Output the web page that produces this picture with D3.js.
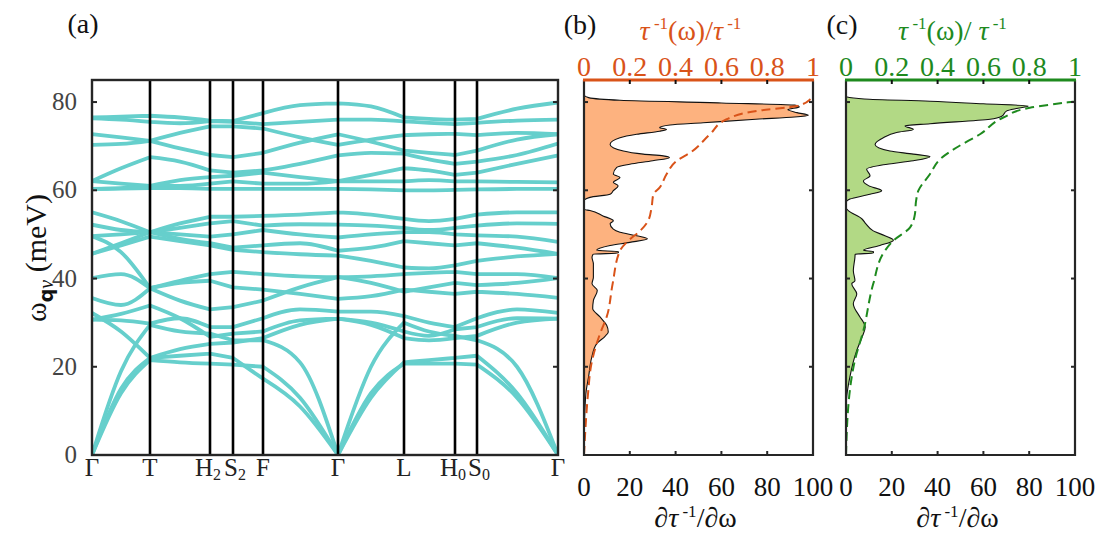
<!DOCTYPE html>
<html>
<head>
<meta charset="utf-8">
<script src="https://cdn.jsdelivr.net/npm/d3@7"></script>
<style>
  body { margin: 0; background: #fff; }
  svg { font-family: 'Liberation Serif', 'Times New Roman', serif; }
</style>
</head>
<body>
<svg id="chart" width="1097" height="535"></svg>
<script>
//  data //

// distance along the k-path of the high-symmetry points
const kNodes = [0, 58, 118, 141, 171, 246, 312, 363, 385, 466];
const kNames = [['Γ', ''], ['T', ''], ['H', '2'], ['S', '2'], ['F', ''], ['Γ', ''], ['L', ''], ['H', '0'], ['S', '0'], ['Γ', '']];
// sample points where band energies were read (nodes plus some midpoints)
const kGrid = [0, 29, 58, 88, 118, 141, 171, 208, 246, 279, 312, 337, 363, 385, 425, 466];

// phonon branches in meV, one value per kGrid point
const bands = [
  [76.5, 76.7, 76.9, 76.5, 75.8, 75.7, 77.5, 79.3, 79.7, 79.0, 76.5, 76.2, 76.0, 76.2, 78.5, 79.9],
  [76.3, 76.0, 75.5, 75.2, 75.7, 75.5, 75.0, 75.5, 76.0, 76.0, 75.6, 75.3, 75.0, 75.3, 75.8, 76.0],
  [72.7, 72.0, 71.2, 73.0, 74.5, 74.5, 74.0, 72.0, 70.3, 71.5, 72.5, 72.7, 72.8, 72.5, 73.0, 72.7],
  [70.3, 70.5, 71.2, 69.5, 68.0, 67.5, 68.5, 70.8, 72.7, 71.0, 69.0, 68.5, 68.0, 69.0, 71.5, 72.7],
  [62.1, 65.0, 67.5, 66.5, 64.5, 64.0, 64.5, 66.0, 67.9, 68.5, 68.3, 67.0, 66.0, 66.5, 68.0, 70.6],
  [62.1, 61.5, 61.0, 62.3, 63.0, 63.3, 64.0, 63.0, 62.1, 63.5, 65.0, 64.5, 63.5, 64.0, 66.0, 67.9],
  [60.3, 60.5, 61.0, 61.0, 61.5, 62.0, 61.5, 61.5, 62.1, 62.0, 62.0, 62.3, 62.0, 62.0, 61.9, 61.8],
  [60.3, 60.4, 60.5, 60.5, 60.3, 60.3, 60.3, 60.3, 60.3, 60.2, 60.0, 60.0, 60.1, 60.2, 60.3, 60.3],
  [55.0, 53.0, 50.5, 52.5, 54.0, 54.0, 54.2, 54.5, 55.0, 54.5, 53.5, 53.0, 53.5, 54.5, 55.0, 55.0],
  [52.2, 51.0, 50.5, 51.5, 52.5, 53.0, 52.0, 52.3, 52.2, 52.0, 51.5, 51.0, 51.5, 52.0, 52.5, 52.4],
  [49.6, 50.0, 50.5, 50.0, 49.5, 50.0, 51.0, 50.0, 49.3, 50.0, 50.5, 50.5, 50.0, 49.8, 49.5, 48.3],
  [45.6, 48.0, 50.5, 49.0, 48.0, 47.0, 47.5, 48.0, 46.3, 47.0, 48.5, 48.0, 47.5, 48.0, 47.0, 45.6],
  [45.6, 47.5, 49.5, 48.5, 47.5, 46.5, 46.0, 45.5, 45.2, 44.0, 42.5, 42.3, 43.0, 44.0, 45.0, 45.6],
  [49.6, 46.0, 37.8, 35.0, 33.0, 33.5, 35.0, 38.0, 40.3, 39.0, 37.0, 38.0, 39.0, 38.5, 39.0, 40.1],
  [40.1, 41.0, 37.8, 39.5, 41.0, 41.5, 41.0, 40.5, 40.3, 40.5, 41.0, 41.3, 41.5, 41.0, 41.0, 40.1],
  [35.6, 34.0, 37.8, 39.0, 39.5, 38.0, 37.5, 36.5, 35.4, 36.0, 37.5, 37.0, 36.5, 37.0, 36.5, 35.6],
  [32.2, 28.0, 22.0, 24.0, 25.2, 25.5, 26.5, 29.5, 30.9, 29.5, 26.5, 26.0, 26.5, 27.0, 30.0, 30.9],
  [30.7, 32.0, 33.9, 31.0, 26.8, 27.5, 28.0, 30.5, 30.9, 30.0, 28.0, 27.0, 28.5, 29.0, 31.0, 30.9],
  [30.7, 30.5, 29.8, 31.0, 29.0, 29.0, 31.0, 33.0, 32.5, 32.5, 31.5, 30.0, 29.0, 31.0, 33.0, 32.2],
  [0, 14.0, 21.5, 21.0, 20.7, 20.5, 20.0, 13.0, 0, 14.0, 20.7, 20.7, 20.7, 20.5, 13.0, 0],
  [0, 15.0, 22.0, 22.5, 23.0, 22.0, 17.3, 11.0, 0, 13.0, 21.0, 21.5, 22.0, 22.5, 14.0, 0],
  [0, 19.0, 29.5, 28.0, 27.5, 26.0, 26.0, 21.0, 0, 20.0, 30.0, 28.0, 27.0, 26.0, 20.0, 0]
];

// panel (b): derivative of the scattering rate and its normalised cumulative value
const omegaB = [0, 1, 10.2, 14.7, 17.7, 22.2, 25.2, 26.9, 27.9, 29.4, 31.3, 33.2, 35.0, 37.3, 38.8, 40.3, 43.3, 44.8, 45.5, 45.8, 46.1, 46.4,
  47.5, 48.2, 49.0, 49.7, 50.5, 51.2, 52.4, 53.1, 54.2, 55.4, 55.7, 57.6, 58.4, 59.1, 59.9, 61.0, 61.8, 62.9, 63.7, 65.2, 65.9, 66.7, 67.4,
  67.8, 68.2, 68.9, 70.4, 71.9, 72.7, 73.4, 73.8, 74.2, 74.8, 75.3, 76.1, 76.6, 77.0, 77.6, 78.3, 78.9, 79.3, 79.8, 80.4, 81.0, 81.5];
const rateB = [0, 0, 0.4, 1, 2, 3.4, 5.5, 9.2, 10.6, 9.9, 7, 3.8, 4.1, 5.8, 3.5, 4.1, 4.1, 3.5, 4, 15, 15, 5.5,
  11.4, 20, 27.7, 23, 15.7, 12.8, 11.4, 12.8, 8.3, 2.6, 0, 0, 2.6, 11.4, 12.8, 14.9, 12.8, 15.7, 12.8, 14.3, 20, 30, 37.3,
  34.6, 25.9, 17.2, 11.4, 15.7, 23, 33, 36, 33, 37.6, 52, 75, 92, 98, 93, 89, 94, 92, 60, 15.7, 2, 0];
const cumOmegaB = [0, 14.7, 20, 27.5, 31.3, 38.8, 46.3, 48.6, 50.8, 53.1, 56.1, 59.1, 60.6, 63.7, 66.7, 68.5, 72.7, 76.1, 78.0, 79.1, 80.6, 81.7, 85];
const cumB = [0, 0.019, 0.03, 0.07, 0.099, 0.125, 0.157, 0.194, 0.245, 0.28, 0.295, 0.303, 0.33, 0.361, 0.405, 0.463, 0.55, 0.623, 0.754, 0.929, 0.987, 1, 1];

// panel (c)
const omegaC = [0, 10, 12.4, 17.7, 23.7, 26.7, 29.0, 30.1, 31.3, 34.3, 36.5, 38.8, 39.5, 41.8, 44.8, 45.5, 45.8, 46.1, 46.4,
  47.5, 48.7, 49.7, 50.8, 52.4, 53.5, 55.4, 56.0, 57.2, 58.0, 59.1, 59.9, 61.0, 62.1, 63.3, 64.8, 65.8, 66.7, 67.6, 68.2, 68.9,
  70.4, 71.9, 73.1, 73.8, 74.6, 75.1, 76.1, 76.8, 78.0, 78.6, 79.1, 79.6, 80.2, 80.7, 81.2];
const rateC = [0, 0.1, 0.2, 1.7, 4.7, 7, 8.4, 7.6, 6.1, 3.2, 4.7, 2.5, 3.9, 3.2, 3.9, 4, 12, 12, 7.6,
  14.8, 20.7, 17, 11.9, 8.7, 7, 1, 0, 0, 1.7, 10.5, 15.6, 10, 7.6, 10.5, 9, 16.3, 29.4, 36.7, 29.4, 19.2,
  12.7, 16.3, 22.1, 29.4, 25.8, 36.7, 62.9, 68, 70.2, 75, 79.6, 60, 36.7, 8, 0];
const cumOmegaC = [0, 14.7, 21.5, 28.2, 38.8, 46.3, 48.6, 51.6, 54.6, 57.6, 59.9, 63.7, 67.0, 69.7, 72.7, 76.5, 78.7, 79.8, 80.2, 85];
const cumC = [0, 0.017, 0.039, 0.076, 0.119, 0.17, 0.207, 0.28, 0.301, 0.306, 0.316, 0.367, 0.41, 0.483, 0.585, 0.687, 0.803, 0.948, 1, 1];

const yTicks = [0, 20, 40, 60, 80];
const rateTicks = [0, 20, 40, 60, 80, 100];
const cumTicks = [0, 0.2, 0.4, 0.6, 0.8, 1];

//  layout //
const svg = d3.select('#chart');
const plotTop = 80;
const plotBottom = 455;
const axisColor = '#262626';
const bandColor = '#66CFCC';

// shared energy scale
const y = d3.scaleLinear().domain([0, 85]).range([plotBottom, plotTop]);

//  panel (a): band structure //
const xA = d3.scaleLinear().domain([0, 466]).range([92, 558]);

svg.append('clipPath').attr('id', 'clipA')
  .append('rect').attr('x', xA(0)).attr('y', plotTop).attr('width', xA(466) - xA(0)).attr('height', plotBottom - plotTop);

const gA = svg.append('g');
const nodeIdx = kNodes.map(k => kGrid.indexOf(k));
const bandLine = d3.line()
  .x(d => xA(d[0]))
  .y(d => y(d[1]))
  .curve(d3.curveMonotoneX);

// each branch is drawn segment by segment so that kinks stay at the high-symmetry points
bands.forEach(band => {
  let d = '';
  for (let s = 0; s < nodeIdx.length - 1; s++) {
    const pts = d3.range(nodeIdx[s], nodeIdx[s + 1] + 1).map(i => [kGrid[i], band[i]]);
    d += bandLine(pts);
  }
  gA.append('path')
    .attr('d', d)
    .attr('fill', 'none')
    .attr('stroke', bandColor)
    .attr('stroke-width', 3.8)
    .attr('stroke-linecap', 'round')
    .attr('clip-path', 'url(#clipA)');
});

// vertical lines at the high-symmetry points
gA.selectAll('.kline')
  .data(kNodes.slice(1, -1))
  .join('line')
    .attr('x1', d => xA(d)).attr('x2', d => xA(d))
    .attr('y1', plotTop).attr('y2', plotBottom)
    .attr('stroke', '#000')
    .attr('stroke-width', 2.6);

// frame
gA.append('rect')
  .attr('x', xA(0)).attr('y', plotTop)
  .attr('width', xA(466) - xA(0)).attr('height', plotBottom - plotTop)
  .attr('fill', 'none').attr('stroke', axisColor).attr('stroke-width', 2.4);

// y ticks on both sides
yTicks.forEach(t => {
  gA.append('line').attr('x1', xA(0)).attr('x2', xA(0) + 5).attr('y1', y(t)).attr('y2', y(t))
    .attr('stroke', axisColor).attr('stroke-width', 2);
  gA.append('line').attr('x1', xA(466)).attr('x2', xA(466) - 5).attr('y1', y(t)).attr('y2', y(t))
    .attr('stroke', axisColor).attr('stroke-width', 2);
});
gA.selectAll('.ylab')
  .data(yTicks)
  .join('text')
    .attr('x', 77).attr('y', d => y(d) + 8)
    .attr('text-anchor', 'end')
    .attr('font-size', 25)
    .attr('fill', '#444')
    .text(d => d);

// k-point labels, H and S pushed apart a little since their lines are close
const kLab = gA.selectAll('.klab')
  .data(kNodes)
  .join('text')
    .attr('x', (d, i) => xA(d) + (kNames[i][0] === 'H' ? -2 : kNames[i][0] === 'S' ? 2 : 0))
    .attr('y', 476)
    .attr('text-anchor', 'middle')
    .attr('font-size', 25)
    .attr('fill', '#222');
kLab.append('tspan').text((d, i) => kNames[i][0]);
kLab.append('tspan').attr('font-size', 16).attr('dy', 4).text((d, i) => kNames[i][1]);

// y label
const yLab = svg.append('text')
  .attr('transform', 'translate(46,258) rotate(-90)')
  .attr('text-anchor', 'middle')
  .attr('font-size', 30)
  .attr('fill', '#111');
yLab.append('tspan').text('ω');
yLab.append('tspan').attr('font-size', 19).attr('dy', 7).attr('font-family', 'DejaVu Sans').attr('font-weight', 'bold').text('q');
yLab.append('tspan').attr('font-size', 20).attr('font-style', 'italic').text('ν');
yLab.append('tspan').attr('dy', -7).text(' (meV)');

svg.append('text').attr('x', 83).attr('y', 33).attr('text-anchor', 'middle')
  .attr('font-size', 28).attr('fill', '#111').text('(a)');

//  panels (b) and (c): scattering rate //
function ratePanel (x0, x1, omega, rate, cumOmega, cum, fillColor, mainColor, label, slashSpace) {
  const x = d3.scaleLinear().domain([0, 100]).range([x0, x1]);
  const xTop = d3.scaleLinear().domain([0, 1]).range([x0, x1]);
  const g = svg.append('g');
  const pts = omega.map((w, i) => [w, rate[i]]);

  // filled density, the curve runs along the energy axis
  g.append('path')
    .datum(pts)
    .attr('d', d3.area().curve(d3.curveMonotoneY)
      .y(d => y(d[0])).x0(x(0)).x1(d => x(d[1])))
    .attr('fill', fillColor);
  g.append('path')
    .datum(pts)
    .attr('d', d3.line().curve(d3.curveMonotoneY).y(d => y(d[0])).x(d => x(d[1])))
    .attr('fill', 'none').attr('stroke', '#111').attr('stroke-width', 1.1);

  // cumulative, dashed
  g.append('path')
    .datum(cumOmega.map((w, i) => [w, cum[i]]))
    .attr('d', d3.line().curve(d3.curveMonotoneY).y(d => y(d[0])).x(d => xTop(d[1])))
    .attr('fill', 'none').attr('stroke', mainColor).attr('stroke-width', 2)
    .attr('stroke-dasharray', '9,5');

  // frame without the top side
  g.append('path')
    .attr('d', `M${x0},${plotTop}V${plotBottom}H${x1}V${plotTop}`)
    .attr('fill', 'none').attr('stroke', axisColor).attr('stroke-width', 2.2);
  g.append('line').attr('x1', x0 - 1).attr('x2', x1 + 1).attr('y1', plotTop).attr('y2', plotTop)
    .attr('stroke', mainColor).attr('stroke-width', 3);

  // ticks
  yTicks.slice(1).forEach(t => {
    g.append('line').attr('x1', x0).attr('x2', x0 + 4).attr('y1', y(t)).attr('y2', y(t)).attr('stroke', axisColor).attr('stroke-width', 2);
    g.append('line').attr('x1', x1).attr('x2', x1 - 4).attr('y1', y(t)).attr('y2', y(t)).attr('stroke', axisColor).attr('stroke-width', 2);
  });
  rateTicks.slice(1, -1).forEach(t => {
    g.append('line').attr('x1', x(t)).attr('x2', x(t)).attr('y1', plotBottom).attr('y2', plotBottom - 4).attr('stroke', axisColor).attr('stroke-width', 2);
  });
  cumTicks.slice(1, -1).forEach(t => {
    g.append('line').attr('x1', xTop(t)).attr('x2', xTop(t)).attr('y1', plotTop).attr('y2', plotTop + 4).attr('stroke', '#111').attr('stroke-width', 2);
  });

  // tick labels
  g.selectAll('.blab')
    .data(rateTicks)
    .join('text')
      .attr('x', d => x(d)).attr('y', 496)
      .attr('text-anchor', 'middle').attr('font-size', 27).attr('fill', '#111')
      .text(d => d);
  g.selectAll('.tlab')
    .data(cumTicks)
    .join('text')
      .attr('x', d => xTop(d)).attr('y', 76)
      .attr('text-anchor', 'middle').attr('font-size', 28).attr('fill', mainColor)
      .text(d => d);

  // titles
  const title = g.append('text')
    .attr('x', (x0 + x1) / 2 - 8).attr('y', 40)
    .attr('text-anchor', 'middle').attr('font-size', 28).attr('fill', mainColor);
  title.append('tspan').attr('font-style', 'italic').text('τ');
  title.append('tspan').attr('font-size', 17).attr('dy', -11).text(' -1');
  title.append('tspan').attr('dy', 11).text('(ω)/' + (slashSpace ? ' ' : ''));
  title.append('tspan').attr('font-style', 'italic').text('τ');
  title.append('tspan').attr('font-size', 17).attr('dy', -11).text(' -1');

  const xl = g.append('text')
    .attr('x', (x0 + x1) / 2 - 3).attr('y', 527)
    .attr('text-anchor', 'middle').attr('font-size', 28).attr('fill', '#111');
  xl.append('tspan').text('∂');
  xl.append('tspan').attr('font-style', 'italic').text('τ');
  xl.append('tspan').attr('font-size', 17).attr('dy', -10).text(' -1');
  xl.append('tspan').attr('dy', 10).text('/∂ω');

  svg.append('text').attr('x', x0 - 4).attr('y', 34).attr('text-anchor', 'middle')
    .attr('font-size', 28).attr('fill', '#111').text(label);
}

ratePanel(584, 813, omegaB, rateB, cumOmegaB, cumB, '#FDB27F', '#D95319', '(b)', false);
ratePanel(846, 1075, omegaC, rateC, cumOmegaC, cumC, '#B2D985', '#1E8A1E', '(c)', true);
</script>
</body>
</html>
